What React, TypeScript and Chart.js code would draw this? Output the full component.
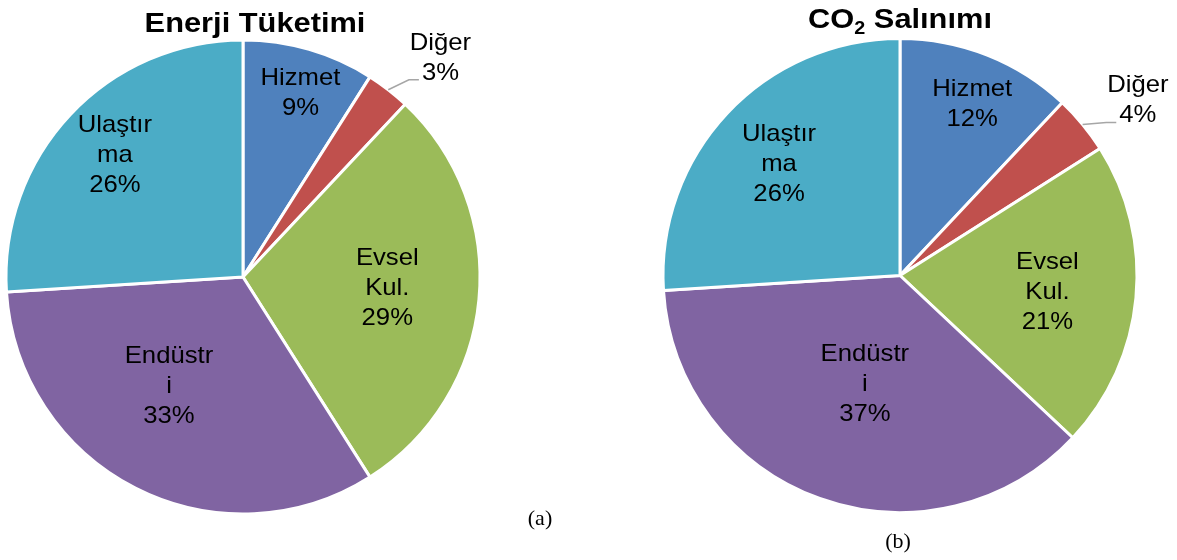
import React, { useEffect, useRef } from "react";
import { Chart, registerables } from "chart.js";

Chart.register(...registerables);

// ---- data ----
const categories = ["Hizmet", "Diğer", "Evsel Kul.", "Endüstri", "Ulaştırma"];
const labelLines = [["Hizmet"], ["Diğer"], ["Evsel", "Kul."], ["Endüstr", "i"], ["Ulaştır", "ma"]];
const energyValues = [9, 3, 29, 33, 26];
const co2Values = [12, 4, 21, 37, 26];
const sliceColors = ["#4F81BD", "#C0504D", "#9BBB59", "#8064A2", "#4BACC6"];
const titleEnergy = "Enerji Tüketimi";
const titleCO2 = ["CO", "2", " Salınımı"];
const captions = ["(a)", "(b)"];

// label placement: radius fraction, angle shift (deg), outside with leader
const placementA = [
  { f: 0.82, da: 1, out: false },
  { f: 1.25, da: 4, out: true },
  { f: 0.61, da: -1.8, out: false },
  { f: 0.55, da: 7.6, out: false },
  { f: 0.75, da: 0.7, out: false },
];
const placementB = [
  { f: 0.79, da: 1.1, out: false },
  { f: 1.25, da: 3, out: true },
  { f: 0.625, da: 0.2, out: false },
  { f: 0.475, da: -1.6, out: false },
  { f: 0.7, da: 0, out: false },
];

const W = 1177;
const H = 560;
const FONT = '"Liberation Sans", Arial, sans-serif';
const SERIF = '"Liberation Serif", "Times New Roman", serif';
const LABEL_STRETCH = 1.07;
const TITLE_STRETCH = 1.1;

function sText(ctx: CanvasRenderingContext2D, t: string, x: number, y: number, sx: number) {
  ctx.save();
  ctx.translate(x, y);
  ctx.scale(sx, 1);
  ctx.fillText(t, 0, 0);
  ctx.restore();
}

type Cfg = {
  values: number[];
  placement: { f: number; da: number; out: boolean }[];
  cx: number;
  cy: number;
  R: number;
  drawTitle: (ctx: CanvasRenderingContext2D) => void;
  caption: string;
  capX: number;
  capY: number;
};

function labelPlugin(cfg: Cfg) {
  return {
    id: "pieLabels",
    afterDraw(chart: any) {
      const ctx: CanvasRenderingContext2D = chart.ctx;
      const meta = chart.getDatasetMeta(0);
      ctx.save();
      const fs = 24;
      const lh = 30;
      const capH = fs * 0.716;
      ctx.font = `${fs}px ${FONT}`;
      ctx.fillStyle = "#000";
      ctx.textAlign = "center";
      ctx.textBaseline = "alphabetic";
      meta.data.forEach((arc: any, i: number) => {
        const p = arc.getProps(["x", "y", "startAngle", "endAngle", "outerRadius"], true);
        const pl = cfg.placement[i];
        const midRaw = (p.startAngle + p.endAngle) / 2;
        const mid = midRaw + (pl.da * Math.PI) / 180;
        const r = p.outerRadius * pl.f;
        const lx = p.x + Math.cos(mid) * r;
        const ly = p.y + Math.sin(mid) * r;
        const lines = [...labelLines[i], cfg.values[i] + "%"];
        const n = lines.length;
        const baselines = lines.map((_, k) => ly - ((n - 1) * lh) / 2 + k * lh + capH / 2);
        lines.forEach((t, k) => sText(ctx, t, lx, baselines[k], LABEL_STRETCH));
        if (pl.out) {
          const last = lines[n - 1];
          const w = ctx.measureText(last).width * LABEL_STRETCH;
          const sx = p.x + Math.cos(midRaw) * p.outerRadius;
          const sy = p.y + Math.sin(midRaw) * p.outerRadius;
          const ex = lx - w / 2 - 3;
          const ey = baselines[n - 1];
          ctx.beginPath();
          ctx.strokeStyle = "#A6A6A6";
          ctx.lineWidth = 1.5;
          ctx.moveTo(sx, sy);
          ctx.lineTo(ex - 10, ey);
          ctx.lineTo(ex, ey);
          ctx.stroke();
        }
      });
      cfg.drawTitle(ctx);
      ctx.font = `22px ${SERIF}`;
      ctx.fillStyle = "#000";
      ctx.textAlign = "center";
      ctx.fillText(cfg.caption, cfg.capX, cfg.capY);
      ctx.restore();
    },
  };
}

function PieCanvas({ cfg }: { cfg: Cfg }) {
  const ref = useRef<HTMLCanvasElement | null>(null);
  useEffect(() => {
    if (!ref.current) return;
    const areaHalf = 243;
    const chart = new Chart(ref.current, {
      type: "pie",
      data: {
        labels: categories,
        datasets: [
          {
            data: cfg.values,
            backgroundColor: sliceColors,
            borderColor: "#FFFFFF",
            borderWidth: 3,
          },
        ],
      },
      options: {
        animation: false,
        responsive: true,
        maintainAspectRatio: false,
        radius: cfg.R,
        layout: {
          padding: {
            left: cfg.cx - areaHalf,
            right: W - (cfg.cx + areaHalf),
            top: 0,
            bottom: H - 2 * cfg.cy,
          },
        },
        plugins: {
          legend: { display: false },
          tooltip: { enabled: false },
          title: { display: false },
        },
      } as any,
      plugins: [labelPlugin(cfg)],
    });
    return () => chart.destroy();
  }, [cfg]);
  return (
    <div style={{ position: "absolute", left: 0, top: 0, width: W, height: H }}>
      <canvas ref={ref} />
    </div>
  );
}

const cfgA: Cfg = {
  values: energyValues,
  placement: placementA,
  cx: 243,
  cy: 277,
  R: 237,
  drawTitle: (ctx) => {
    ctx.font = `bold 28px ${FONT}`;
    ctx.fillStyle = "#000";
    ctx.textAlign = "center";
    sText(ctx, titleEnergy, 255, 32, TITLE_STRETCH);
  },
  caption: captions[0],
  capX: 540,
  capY: 525,
};

const cfgB: Cfg = {
  values: co2Values,
  placement: placementB,
  cx: 900,
  cy: 275.5,
  R: 237,
  drawTitle: (ctx) => {
    ctx.fillStyle = "#000";
    ctx.textAlign = "left";
    const big = `bold 28px ${FONT}`;
    const small = `bold 18px ${FONT}`;
    ctx.font = big;
    const w0 = ctx.measureText(titleCO2[0]).width * TITLE_STRETCH;
    const w2 = ctx.measureText(titleCO2[2]).width * TITLE_STRETCH;
    ctx.font = small;
    const w1 = ctx.measureText(titleCO2[1]).width * TITLE_STRETCH;
    let x = 900 - (w0 + w1 + w2) / 2;
    const base = 28;
    ctx.font = big;
    sText(ctx, titleCO2[0], x, base, TITLE_STRETCH);
    x += w0;
    ctx.font = small;
    sText(ctx, titleCO2[1], x, base + 6, TITLE_STRETCH);
    x += w1;
    ctx.font = big;
    sText(ctx, titleCO2[2], x, base, TITLE_STRETCH);
  },
  caption: captions[1],
  capX: 898,
  capY: 548,
};

export default function App() {
  return (
    <div style={{ position: "fixed", left: 0, top: 0, width: W, height: H, background: "#fff" }}>
      <PieCanvas cfg={cfgA} />
      <PieCanvas cfg={cfgB} />
    </div>
  );
}
